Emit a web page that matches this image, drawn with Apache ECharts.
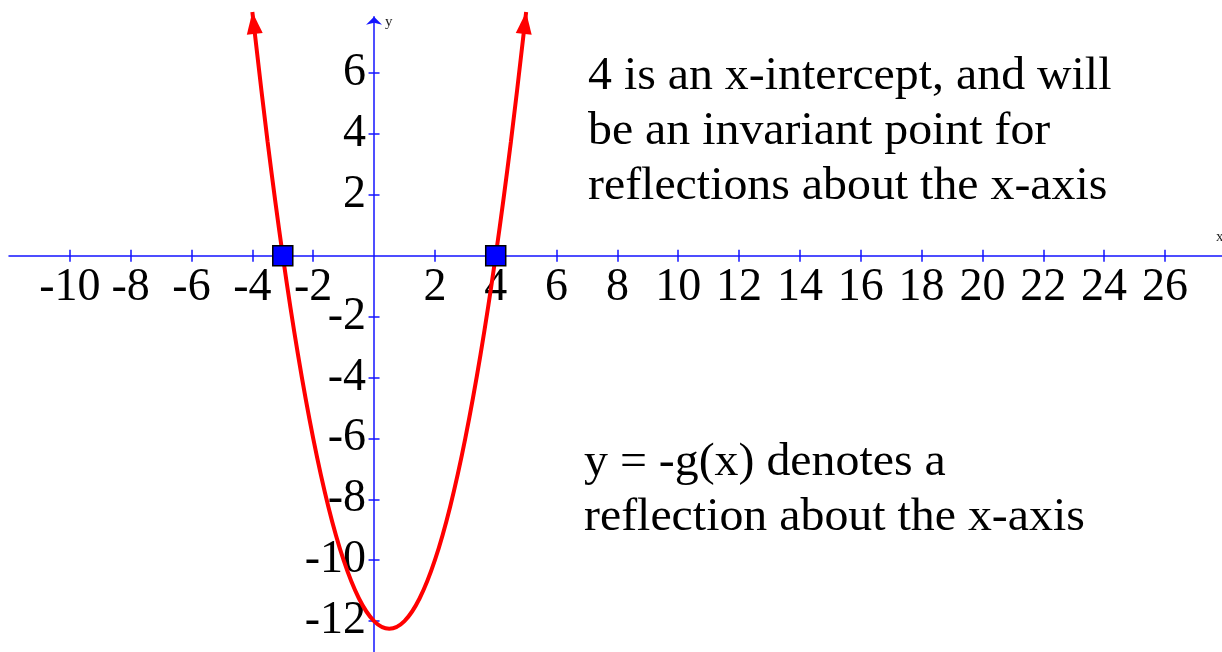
<!DOCTYPE html>
<html>
<head>
<meta charset="utf-8">
<title>y = -g(x): reflection about the x-axis</title>
<script src="https://cdn.jsdelivr.net/npm/echarts@6/dist/echarts.min.js"></script>
<style>
  html, body { margin: 0; padding: 0; background: #ffffff; }
  #chart { width: 1222px; height: 652px; }
</style>
</head>
<body>
<div id="chart"></div>
<script>
// Points read along the red parabola
const curveX = [-4, -3.5, -3, -2.5, -2, -1.5, -1, -0.5, 0, 0.5, 1, 1.5, 2, 2.5, 3, 3.5, 4, 4.5, 5];
const curveY = [8, 3.75, 0, -3.25, -6, -8.25, -10, -11.25, -12, -12.25, -12, -11.25, -10, -8.25, -6, -3.25, 0, 3.75, 8];

// x-intercepts marked with squares
const interceptX = [-3, 4];
const interceptY = [0, 0];

// Tick values
const xTicks = [-10, -8, -6, -4, -2, 2, 4, 6, 8, 10, 12, 14, 16, 18, 20, 22, 24, 26];
const yTicks = [-12, -10, -8, -6, -4, -2, 2, 4, 6];

// Annotation text
const noteTop = ['4 is an x-intercept, and will', 'be an invariant point for', 'reflections about the x-axis'];
const noteBottom = ['y = -g(x) denotes a', 'reflection about the x-axis'];

const AXIS_BLUE = '#1414ff';
const SERIF = '"Liberation Serif", "Times New Roman", serif';
const X_MIN = -12, X_MAX = 28, Y_MIN = -13, Y_MAX = 7.85;

// Plot frame: pixels per unit and the data window
const PX_X = 30.42, PX_Y = 30.45;
const LEFT = 9, TOP = 16.67;
const W = (X_MAX - X_MIN) * PX_X;
const H = (Y_MAX - Y_MIN) * PX_Y;
const ORIGIN_X = LEFT - X_MIN * PX_X;   // pixel column of x = 0
const ORIGIN_Y = TOP + Y_MAX * PX_Y;    // pixel row of y = 0

const chart = echarts.init(document.getElementById('chart'), null, { renderer: 'canvas' });

const curveData = curveX.map((x, i) => {
  const item = { value: [x, curveY[i]] };
  if (i === 0) {
    item.symbol = 'triangle'; item.symbolSize = [16, 22];
    item.symbolRotate = 6.3; item.symbolOffset = [1.2, 10.9];
  } else if (i === curveX.length - 1) {
    item.symbol = 'triangle'; item.symbolSize = [16, 22];
    item.symbolRotate = -6.3; item.symbolOffset = [-1.2, 10.9];
  }
  return item;
});

const tickStyle = { color: AXIS_BLUE, width: 1.5 };
const hidden = (min, max, gridIndex) => ({ type: 'value', min, max, gridIndex, show: false });
const gridBox = (left, top, width, height) => ({
  left, top, width, height, containLabel: false, outerBoundsMode: 'none'
});

const option = {
  backgroundColor: '#ffffff',
  animation: false,
  grid: [
    gridBox(LEFT, TOP, W, H),                                 // 0: plotted series
    gridBox(ORIGIN_X, TOP, X_MAX * PX_X, H),                  // 1: y-axis with labels (left side of x = 0)
    gridBox(LEFT, TOP, -X_MIN * PX_X, H),                     // 2: y-axis ticks to the right
    gridBox(LEFT, TOP, W, Y_MAX * PX_Y),                      // 3: x-axis with labels (below y = 0)
    gridBox(LEFT, ORIGIN_Y, W, -Y_MIN * PX_Y)                 // 4: x-axis ticks upward
  ],
  xAxis: [
    hidden(X_MIN, X_MAX, 0),
    hidden(0, X_MAX, 1),
    hidden(X_MIN, 0, 2),
    {
      type: 'value', gridIndex: 3, min: X_MIN, max: X_MAX, position: 'bottom',
      splitLine: { show: false },
      axisLine: { onZero: false, lineStyle: { color: AXIS_BLUE, width: 1.5 } },
      axisTick: { show: true, length: 6, customValues: xTicks, lineStyle: tickStyle },
      axisLabel: { show: true, customValues: xTicks, margin: 9, color: '#000', fontFamily: SERIF, fontSize: 46 }
    },
    {
      type: 'value', gridIndex: 4, min: X_MIN, max: X_MAX, position: 'top',
      splitLine: { show: false },
      axisLine: { show: false, onZero: false },
      axisTick: { show: true, length: 6, customValues: xTicks, lineStyle: tickStyle },
      axisLabel: { show: false }
    }
  ],
  yAxis: [
    hidden(Y_MIN, Y_MAX, 0),
    {
      type: 'value', gridIndex: 1, min: Y_MIN, max: Y_MAX, position: 'left',
      splitLine: { show: false },
      axisLine: {
        onZero: false, symbol: ['none', 'arrow'], symbolSize: [12, 8],
        lineStyle: { color: AXIS_BLUE, width: 1.5 }
      },
      axisTick: { show: true, length: 5.5, customValues: yTicks, lineStyle: tickStyle },
      axisLabel: { show: true, customValues: yTicks, margin: 8, color: '#000', fontFamily: SERIF, fontSize: 46 }
    },
    {
      type: 'value', gridIndex: 2, min: Y_MIN, max: Y_MAX, position: 'right',
      splitLine: { show: false },
      axisLine: { show: false, onZero: false },
      axisTick: { show: true, length: 5.5, customValues: yTicks, lineStyle: tickStyle },
      axisLabel: { show: false }
    },
    hidden(0, Y_MAX, 3),
    hidden(Y_MIN, 0, 4)
  ],
  series: [
    {
      name: 'y = -g(x)',
      type: 'line',
      xAxisIndex: 0, yAxisIndex: 0,
      data: curveData,
      smooth: 0.35,
      clip: false,
      symbol: 'none',
      showSymbol: true,
      lineStyle: { color: '#ff0000', width: 4 },
      itemStyle: { color: '#ff0000' },
      z: 3
    },
    {
      name: 'x-intercepts',
      type: 'scatter',
      xAxisIndex: 0, yAxisIndex: 0,
      data: interceptX.map((x, i) => [x, interceptY[i]]),
      symbol: 'rect',
      symbolSize: 20,
      itemStyle: { color: '#0000ff', opacity: 1, borderColor: '#000000', borderWidth: 1.5 },
      z: 5
    }
  ],
  graphic: [
    { type: 'text', left: 385, top: 15, style: { text: 'y', font: '15px ' + SERIF, fill: '#222' } },
    { type: 'text', left: 1216, top: 230, style: { text: 'x', font: '15px ' + SERIF, fill: '#222' } },
    {
      type: 'text', left: 588, top: 49, scaleX: 1.04,
      style: { text: noteTop.join('\n'), font: '46px ' + SERIF, lineHeight: 55, fill: '#000' }
    },
    {
      type: 'text', left: 584, top: 435, scaleX: 1.04,
      style: { text: noteBottom.join('\n'), font: '46px ' + SERIF, lineHeight: 55, fill: '#000' }
    }
  ]
};

chart.setOption(option);
</script>
</body>
</html>
